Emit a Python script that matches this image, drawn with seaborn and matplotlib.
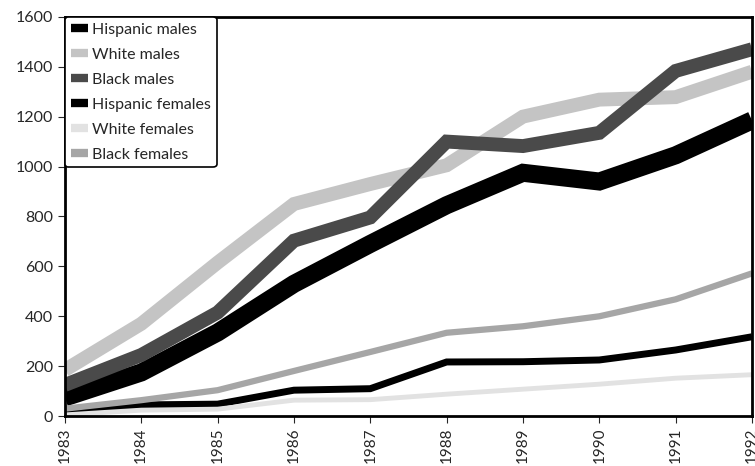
import matplotlib
matplotlib.use("Agg")
import matplotlib.pyplot as plt
import seaborn as sns
import pandas as pd

years = [1983, 1984, 1985, 1986, 1987, 1988, 1989, 1990, 1991, 1992]

hispanic_males = [75, 175, 335, 530, 690, 845, 975, 940, 1045, 1185]
white_males = [185, 370, 615, 850, 930, 1005, 1200, 1268, 1278, 1380]
black_males = [125, 245, 415, 703, 796, 1100, 1082, 1135, 1383, 1470]
hispanic_females = [20, 45, 48, 104, 110, 217, 218, 225, 265, 318]
white_females = [5, 24, 28, 64, 66, 88, 108, 128, 152, 166]
black_females = [30, 64, 104, 181, 257, 334, 360, 400, 468, 572]

series_names = ["Hispanic males", "White males", "Black males",
                "Hispanic females", "White females", "Black females"]
series_values = [hispanic_males, white_males, black_males,
                 hispanic_females, white_females, black_females]

# line look per series (grey tones mimic the scanned halftone)
colors = ["#000000", "#c4c4c4", "#4a4a4a", "#000000", "#e2e2e2", "#a6a6a6"]
widths = [13, 10, 10, 5, 3.5, 4.5]

rows = []
for name, vals in zip(series_names, series_values):
    for yr, v in zip(years, vals):
        rows.append({"year": yr, "value": v, "group": name})
df = pd.DataFrame(rows)

sns.set_style("ticks")
plt.rcParams["font.family"] = ["Lato", "DejaVu Sans"]

fig = plt.figure(figsize=(7.55, 4.66), dpi=100)
ax = fig.add_axes([0.086, 0.107, 0.910, 0.857])

for name, col, lw in zip(series_names, colors, widths):
    sub = df[df["group"] == name]
    sns.lineplot(data=sub, x="year", y="value", ax=ax, color=col,
                 linewidth=lw, label=name, solid_joinstyle="miter",
                 solid_capstyle="butt")

ax.set_xlim(1983, 1992)
ax.set_ylim(0, 1600)
ax.set_xticks(years)
ax.set_xticklabels([str(y) for y in years], rotation=90, fontsize=11)
ax.set_yticks(range(0, 1601, 200))
ax.tick_params(axis="y", labelsize=11.5, length=5, width=0.8, direction="out")
ax.tick_params(axis="x", length=5, width=0.8, direction="out", pad=3)
ax.set_xlabel("")
ax.set_ylabel("")

for sp in ax.spines.values():
    sp.set_linewidth(2)
    sp.set_color("black")

leg = ax.legend(loc="upper left", bbox_to_anchor=(0, 1), borderaxespad=0,
                fontsize=11.5, handlelength=1.1, handletextpad=0.25,
                labelspacing=0.68, borderpad=0.35, fancybox=True, framealpha=1)
leg.get_frame().set_edgecolor("black")
leg.get_frame().set_linewidth(1.2)
for line in leg.get_lines():
    line.set_linewidth(6)

fig.savefig("out.png", dpi=100)
